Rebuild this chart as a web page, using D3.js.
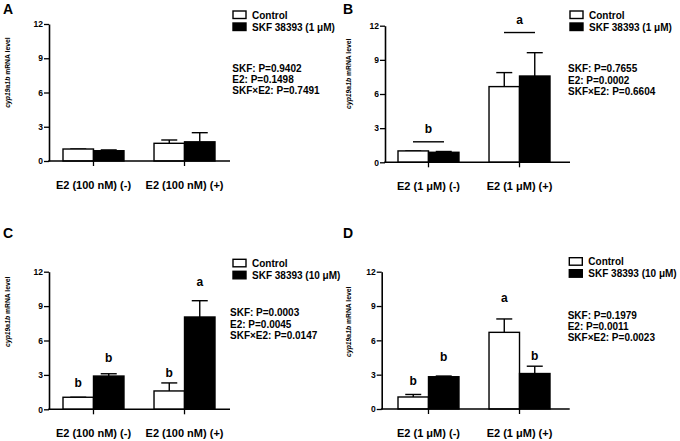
<!DOCTYPE html>
<html>
<head>
<meta charset="utf-8">
<script src="https://cdn.jsdelivr.net/npm/d3@7"></script>
<style>
    body { margin: 0; background: #fff; }
    svg text { font-family: "Liberation Sans", Arial, sans-serif; font-weight: bold; fill: #000; }
</style>
</head>
<body>
<div id="chart"></div>
<script>
// categories
const catsA = ["E2 (100 nM) (-)", "E2 (100 nM) (+)"];
const catsB = ["E2 (1 μM) (-)", "E2 (1 μM) (+)"];
const catsC = ["E2 (100 nM) (-)", "E2 (100 nM) (+)"];
const catsD = ["E2 (1 μM) (-)", "E2 (1 μM) (+)"];

const legendAB = ["Control", "SKF 38393 (1 μM)"];
const legendCD = ["Control", "SKF 38393 (10 μM)"];

const yTicks = [0, 3, 6, 9, 12];

// means per group: [control, SKF]
const meansA = [[1.05, 0.9], [1.55, 1.68]];
const meansB = [[1.0, 0.88], [6.65, 7.58]];
const meansC = [[1.05, 2.9], [1.6, 8.05]];
const meansD = [[1.05, 2.82], [6.7, 3.1]];

// SEM per group: [control, SKF]
const semA = [[0.0, 0.07], [0.29, 0.8]];
const semB = [[0.0, 0.07], [1.23, 2.05]];
const semC = [[0.0, 0.2], [0.7, 1.42]];
const semD = [[0.22, 0.06], [1.17, 0.64]];

// statistics text
const statsA = ["SKF: P=0.9402", "E2: P=0.1498", "SKF×E2: P=0.7491"];
const statsB = ["SKF: P=0.7655", "E2: P=0.0002", "SKF×E2: P=0.6604"];
const statsC = ["SKF: P=0.0003", "E2: P=0.0045", "SKF×E2: P=0.0147"];
const statsD = ["SKF: P=0.1979", "E2: P=0.0011", "SKF×E2: P=0.0023"];

// significance letters
const groupLettersB = ["b", "a"];
const groupLineLevelB = [1.8, 11.4];
const barLettersC = [["b", "b"], ["b", "a"]];
const barLetterLevelC = [[1.97, 4.15], [2.8, 10.75]];
const barLettersD = [["b", "b"], ["a", "b"]];
const barLetterLevelD = [[2.1, 4.22], [9.38, 4.28]];

const width = 680, height = 441;
const FONT = "'Liberation Sans', Arial, sans-serif";

const svg = d3.select("#chart").append("svg")
    .attr("width", width)
    .attr("height", height);

svg.append("rect").attr("width", width).attr("height", height).attr("fill", "#fff");

// panel layout
const panels = [
    {label: "A", lx: 3, ly: 14, x0: 49, w: 181, barOff: 14, yTop: 24, yBot: 161, titleX: 8, titleOff: 48.5,
        cats: catsA, means: meansA, sem: semA, legend: legendAB, legX: 233, legY: 11,
        stats: statsA, statX: 232.3, statY: 71.5},
    {label: "B", lx: 343, ly: 14, x0: 385, w: 185, barOff: 13, yTop: 25.7, yBot: 162.3, titleX: 349, titleOff: 48,
        cats: catsB, means: meansB, sem: semB, legend: legendAB, legX: 570, legY: 11,
        stats: statsB, statX: 568, statY: 72.2, groupLetters: groupLettersB, groupLevels: groupLineLevelB},
    {label: "C", lx: 3, ly: 238, x0: 49, w: 181, barOff: 14, yTop: 271.7, yBot: 409.3, titleX: 8, titleOff: 40,
        cats: catsC, means: meansC, sem: semC, legend: legendCD, legX: 233, legY: 259.3,
        stats: statsC, statX: 230, statY: 316.3, barLetters: barLettersC, barLevels: barLetterLevelC},
    {label: "D", lx: 343, ly: 238, x0: 381.7, w: 188, barOff: 16.3, yTop: 271.7, yBot: 409, titleX: 349, titleOff: 50,
        cats: catsD, means: meansD, sem: semD, legend: legendCD, legX: 569.3, legY: 257.7,
        stats: statsD, statX: 567.7, statY: 318.6, barLetters: barLettersD, barLevels: barLetterLevelD}
];

const fills = ["#fff", "#000"];

panels.forEach(p => drawPanel(p));

function drawPanel(p) {
    let g = svg.append("g");

    let y = d3.scaleLinear().domain([0, 12]).range([p.yBot, p.yTop]);

    let x = d3.scaleBand()
        .domain(p.cats)
        .range([p.x0 + p.barOff, p.x0 + p.barOff + 152])
        .paddingInner(0.33)
        .paddingOuter(0);

    let xs = d3.scaleBand().domain([0, 1]).range([0, x.bandwidth()]);

    // panel letter
    g.append("text")
        .attr("x", p.lx).attr("y", p.ly)
        .attr("font-size", 14)
        .text(p.label);

    // y axis
    let yAxis = g.append("g")
        .attr("transform", `translate(${p.x0},0)`)
        .call(d3.axisLeft(y).tickValues(yTicks).tickSize(5).tickSizeOuter(0).tickPadding(1));
    yAxis.select(".domain").attr("stroke", "#000").attr("stroke-width", 1.6);
    yAxis.selectAll(".tick line").attr("stroke", "#000").attr("stroke-width", 1.3);
    yAxis.selectAll(".tick text")
        .attr("font-size", 8.5)
        .style("font-family", FONT)
        .style("font-weight", "bold");

    // y title
    g.append("text")
        .attr("transform", `translate(${p.titleX},${p.yTop + p.titleOff}) rotate(-90)`)
        .attr("text-anchor", "middle")
        .attr("dy", "0.35em")
        .attr("font-size", 6.8)
        .html('<tspan font-style="italic">cyp19a1b</tspan> mRNA level');

    // bars
    let groups = g.selectAll(".grp")
        .data(p.cats)
        .enter()
        .append("g")
        .attr("class", "grp")
        .attr("transform", d => `translate(${x(d)},0)`);

    groups.each(function (cat, gi) {
        let grp = d3.select(this);
        [0, 1].forEach(si => {
            let m = p.means[gi][si];
            let s = p.sem[gi][si];
            let cx = xs(si) + xs.bandwidth() / 2;

            // error bar (upper only)
            grp.append("line")
                .attr("x1", cx).attr("x2", cx)
                .attr("y1", y(m)).attr("y2", y(m + s))
                .attr("stroke", "#000").attr("stroke-width", 1.4);
            grp.append("line")
                .attr("x1", cx - 8).attr("x2", cx + 8)
                .attr("y1", y(m + s)).attr("y2", y(m + s))
                .attr("stroke", "#000").attr("stroke-width", 1.4);

            grp.append("rect")
                .attr("x", xs(si))
                .attr("y", y(m))
                .attr("width", xs.bandwidth())
                .attr("height", y(0) - y(m))
                .attr("fill", fills[si])
                .attr("stroke", "#000")
                .attr("stroke-width", 1.4);

            if (p.barLetters) {
                grp.append("text")
                    .attr("x", cx)
                    .attr("y", y(p.barLevels[gi][si]))
                    .attr("text-anchor", "middle")
                    .attr("font-size", 12)
                    .text(p.barLetters[gi][si]);
            }
        });

        if (p.groupLetters) {
            let cx = x.bandwidth() / 2;
            grp.append("line")
                .attr("x1", cx - 15.5).attr("x2", cx + 15.5)
                .attr("y1", y(p.groupLevels[gi])).attr("y2", y(p.groupLevels[gi]))
                .attr("stroke", "#000").attr("stroke-width", 1.4);
            grp.append("text")
                .attr("x", cx)
                .attr("y", y(p.groupLevels[gi]) - 9)
                .attr("text-anchor", "middle")
                .attr("font-size", 12)
                .text(p.groupLetters[gi]);
        }
    });

    // x axis
    let xAxis = g.append("g")
        .attr("transform", `translate(0,${y(0)})`)
        .call(d3.axisBottom(x).tickSize(5).tickSizeOuter(0).tickPadding(15));
    xAxis.select(".domain").remove();
    xAxis.selectAll(".tick line").attr("stroke", "#000").attr("stroke-width", 1.3);
    xAxis.selectAll(".tick text")
        .attr("font-size", 11)
        .style("font-family", FONT)
        .style("font-weight", "bold");
    g.append("line")
        .attr("x1", p.x0 - 0.8).attr("x2", p.x0 + p.w)
        .attr("y1", y(0)).attr("y2", y(0))
        .attr("stroke", "#000").attr("stroke-width", 1.6);

    // legend
    p.legend.forEach((name, i) => {
        g.append("rect")
            .attr("x", p.legX).attr("y", p.legY + i * 12)
            .attr("width", 13).attr("height", 7.5)
            .attr("fill", fills[i])
            .attr("stroke", "#000").attr("stroke-width", 1.4);
        g.append("text")
            .attr("x", p.legX + 19).attr("y", p.legY + i * 12 + 7.5)
            .attr("font-size", 10)
            .text(name);
    });

    // stats
    p.stats.forEach((s, i) => {
        g.append("text")
            .attr("x", p.statX).attr("y", p.statY + i * 11.3)
            .attr("font-size", 10)
            .text(s);
    });
}
</script>
</body>
</html>
